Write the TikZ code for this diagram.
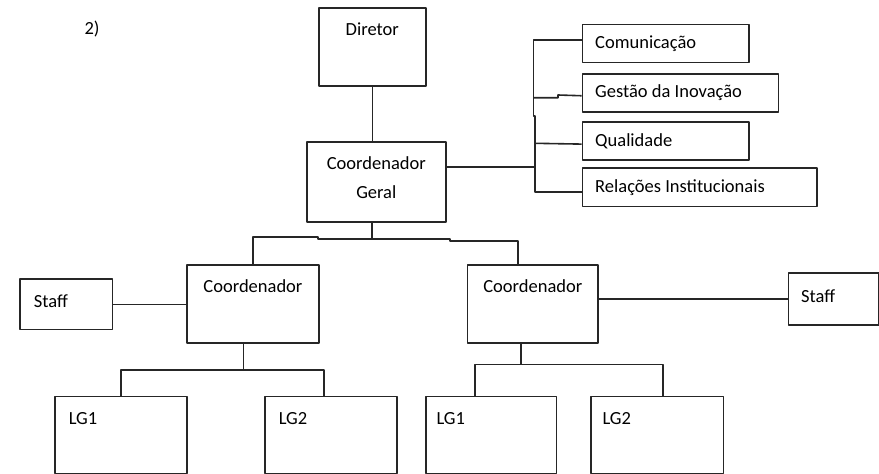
\documentclass[tikz,border=0pt]{standalone}
\usepackage{fontspec}
\setmainfont{Carlito}
\begin{document}
\begin{tikzpicture}[x=1pt,y=-1pt,line join=round,font=\fontsize{18.5}{29}\selectfont,
  caixa/.style={draw=black!85,line width=1.6pt,anchor=north west,inner sep=0pt},
  topo/.style={label={[anchor=center,yshift=-22pt,align=center]north:#1}},
  esq/.style={label={[anchor=west,xshift=10pt]west:#1}},
  canto/.style={label={[anchor=west,xshift=11pt,yshift=-23pt]north west:#1}},
  liga/.style={draw=black!85,line width=1.6pt}]
\useasboundingbox (0,0) rectangle (879,474);
\node (num) at (92,29) {2)};
\node[caixa,minimum width=107pt,minimum height=78pt,topo=Diretor] (dir) at (318,7) {};
\node[caixa,minimum width=139pt,minimum height=80pt,label={[anchor=center,yshift=-37pt,align=center]north:Coordenador\\Geral}] (cg) at (306,141) {};
\node[caixa,minimum width=166.6pt,minimum height=38pt,esq=Comunicação] (com) at (581.7,23.7) {};
\node[caixa,minimum width=196pt,minimum height=38.3pt,esq=Gestão da Inovação] (ges) at (581.7,73) {};
\node[caixa,minimum width=166.6pt,minimum height=38pt,esq=Qualidade] (qual) at (581.7,121.3) {};
\node[caixa,minimum width=234.3pt,minimum height=38.7pt,esq=Relações Institucionais] (rel) at (581.7,167) {};
\node[caixa,minimum width=132.3pt,minimum height=78pt,topo=Coordenador] (cl) at (186,264.3) {};
\node[caixa,minimum width=130.6pt,minimum height=78pt,topo=Coordenador] (cr) at (466.7,264.3) {};
\node[caixa,minimum width=92.4pt,minimum height=50.4pt,label={[anchor=west,xshift=11pt,yshift=3pt]west:Staff}] (sl) at (19.3,278.3) {};
\node[caixa,minimum width=90.3pt,minimum height=52pt,label={[anchor=west,xshift=10pt,yshift=3pt]west:Staff}] (sr) at (787.7,272.3) {};
\node[caixa,minimum width=131.7pt,minimum height=77pt,canto=LG1] (l1) at (54.3,395.7) {};
\node[caixa,minimum width=131.7pt,minimum height=77pt,canto=LG2] (l2) at (264.3,395.7) {};
\node[caixa,minimum width=130.7pt,minimum height=77pt,label={[anchor=west,xshift=8pt,yshift=-23pt]north west:LG1}] (r1) at (425,395.7) {};
\node[caixa,minimum width=132.7pt,minimum height=77pt,label={[anchor=west,xshift=9pt,yshift=-23pt]north west:LG2}] (r2) at (590,395.7) {};
\coordinate (bs) at (534,166.7);
\coordinate (jc) at (371.7,238);
\coordinate (jl) at (243.3,370);
\coordinate (jr) at (520.7,364.3);
\draw[liga] (dir.south) -- (dir.south |- cg.north);
\draw[liga] (cg.east |- bs) -- (bs);
\draw[liga] ([yshift=3.4pt]com.west) -| (533.3,116) -- (535,116) |- ([yshift=-4.7pt]rel.west);
\draw[liga] (533.3,97.7) -- (558,97.7) -- (558,95) -- ([yshift=-2.8pt]ges.west);
\draw[liga] (535,143.3) -- ([yshift=-3pt]qual.west);
\draw[liga] (cg.south -| jc) -- (jc);
\draw[liga] (cl.north) |- (318,236.7) -- (318,239) -- (450,239) -- (450,240.7) -| ([xshift=-15pt]cr.north);
\draw[liga] (sl.east) -- (sl.east -| cl.west);
\draw[liga] (sr.west -| cr.east) -- (sr.west);
\draw[liga] (cl.south -| jl) -- (jl);
\draw[liga] (l1.north) |- (jl) -| ([xshift=-7pt]l2.north);
\draw[liga] (cr.south -| jr) -- (jr);
\draw[liga] ([xshift=-16pt]r1.north) |- (jr) -| ([xshift=6pt]r2.north);
\end{tikzpicture}
\end{document}
